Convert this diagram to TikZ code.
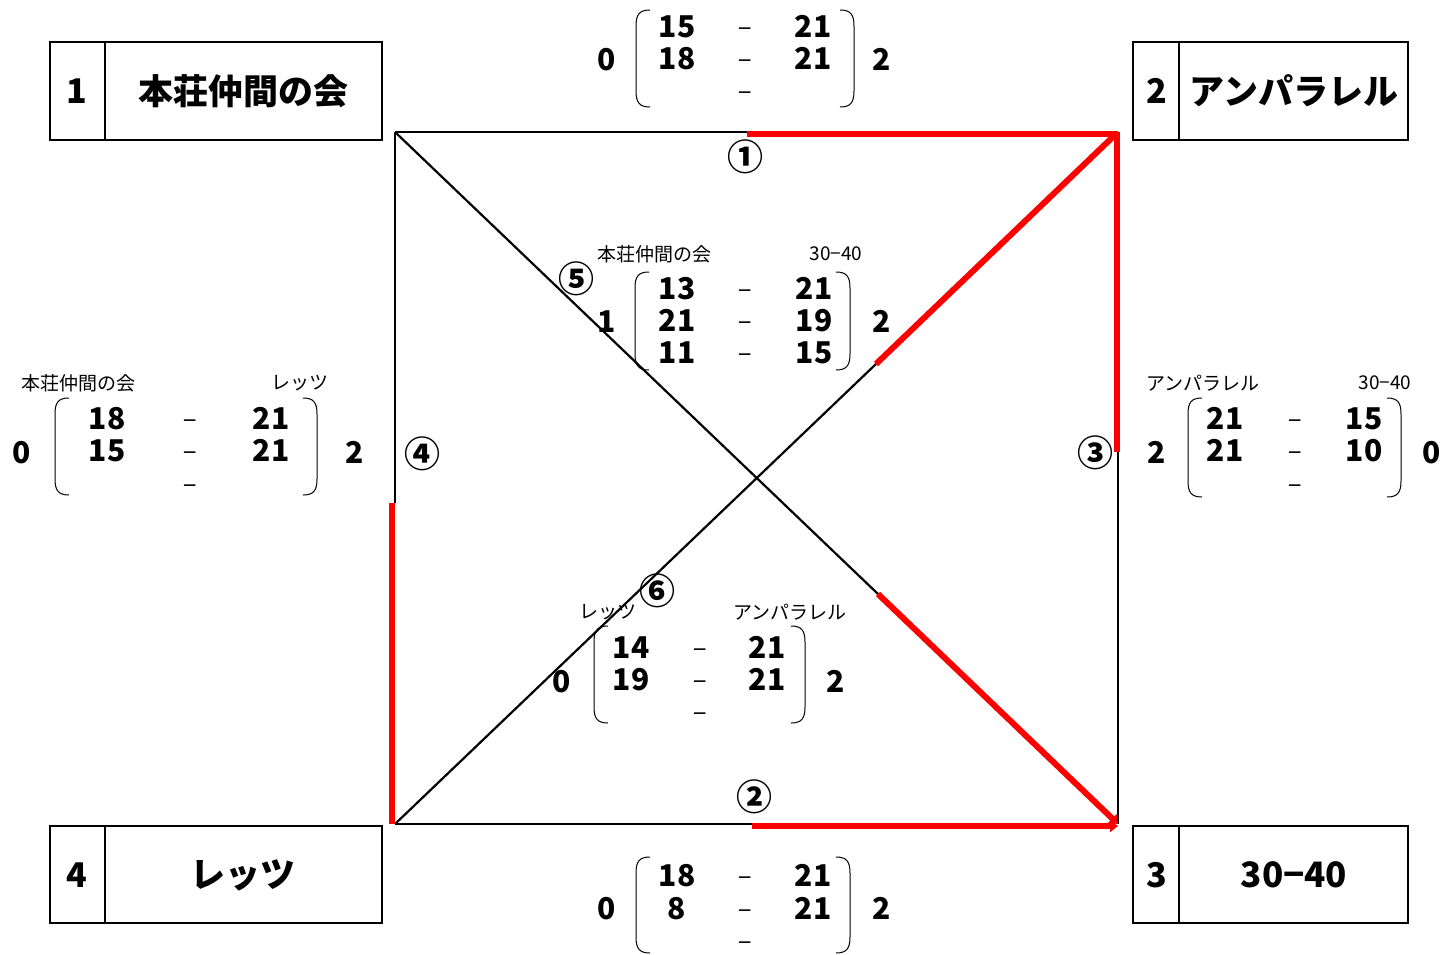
\documentclass[tikz,border=0pt]{standalone}
\usepackage{fontspec}
\setmainfont{Noto Sans CJK JP}
\usetikzlibrary{arrows.meta}
\tikzset{
  bigtxt/.style={font=\fontsize{35}{35}\selectfont\bfseries, inner sep=0pt},
  boxnum/.style={font=\fontsize{34}{34}\selectfont\bfseries, inner sep=0pt},
  num/.style={font=\fontsize{30}{30}\selectfont\bfseries, inner sep=0pt, anchor=base, yshift=-11pt},
  dsh/.style={font=\fontsize{24}{24}\selectfont, inner sep=0pt, anchor=base, yshift=-11pt},
  sm/.style={font=\fontsize{19}{19}\selectfont, inner sep=0pt},
  circ/.style={font=\fontsize{36}{36}\selectfont\bfseries, inner sep=0pt},
  blk/.style={line width=2.2pt, black},
  win/.style={line width=6pt, red},
  wintip/.style={win, -{Triangle[length=8pt,width=12pt]}},
  teambox/.style={draw, line width=1.5pt},
  par/.style={line width=1pt}
}
\newcommand\myLpar[3]{\draw[par] (#1+14,#2) .. controls (#1+3,#2) and (#1,#2+5) .. (#1,#2+16) -- (#1,#3-16) .. controls (#1,#3-5) and (#1+3,#3) .. (#1+14,#3);}
\newcommand\myRpar[3]{\draw[par] (#1-14,#2) .. controls (#1-3,#2) and (#1,#2+5) .. (#1,#2+16) -- (#1,#3-16) .. controls (#1,#3-5) and (#1-3,#3) .. (#1-14,#3);}
\begin{document}
\begin{tikzpicture}[x=1pt,y=-1pt]
\useasboundingbox[fill=white] (0,0) rectangle (1441,955);

% team boxes
\draw[teambox] (50,42) rectangle (382,140); \draw[teambox] (105,42) -- (105,140);
\node[boxnum] (n1) at (77,91) {1};
\node[bigtxt] (t1) at (243,91) {本荘仲間の会};
\draw[teambox] (1133,42) rectangle (1408,140); \draw[teambox] (1179,42) -- (1179,140);
\node[boxnum] (n2) at (1157,91) {2};
\node[bigtxt] (t2) at (1294,91) {アンパラレル};
\draw[teambox] (50,826) rectangle (382,923); \draw[teambox] (105,826) -- (105,923);
\node[boxnum] (n4) at (77,875) {4};
\node[bigtxt] (t4) at (243,875) {レッツ};
\draw[teambox] (1133,826) rectangle (1408,923); \draw[teambox] (1179,826) -- (1179,923);
\node[boxnum] (n3) at (1157,875) {3};
\node[bigtxt] (t3) at (1294,875) {30−40};

% square coordinates
\coordinate (TL) at (395,132);
\coordinate (TR) at (1118,132);
\coordinate (BR) at (1118,824);
\coordinate (BL) at (395,824);
\coordinate (T1) at (747,132);
\coordinate (R3) at (1118,452);
\coordinate (D6) at (876,364);
\coordinate (D5) at (878,594);
\coordinate (B2) at (752,824);
\coordinate (L4) at (395,503);

% black parts
\draw[blk] (TL) -- (T1);
\draw[blk] (R3) -- (BR);
\draw[blk] (D6) -- (BL);
\draw[blk] (TL) -- (D5);
\draw[blk] (BL) -- (B2);
\draw[blk] (TL) -- (L4);
% red parts
\draw[win] ([yshift=-2pt]T1) -- ([yshift=-2pt]TR);
\draw[win] ([xshift=-1pt]TR) -- ([xshift=-1pt]R3);
\draw[wintip] (D6) -- (TR);
\draw[wintip] (D5) -- (BR);
\draw[wintip] ([yshift=-2pt]B2) -- ([yshift=-2pt]BR);
\draw[win] ([xshift=-3pt]L4) -- ([xshift=-3pt]BL);

% circled match numbers
\node[circ] (c1) at (745,157) {①};
\node[circ] (c2) at (754,797) {②};
\node[circ] (c3) at (1095,453) {③};
\node[circ] (c4) at (422,454) {④};
\node[circ] (c5) at (576,279) {⑤};
\node[circ] (c6) at (657,591) {⑥};

% match 1 (top)
\node[num] (m1l) at (607,60) {0};
\node[num] (m1r) at (882,60) {2};
\myLpar{636}{10}{107} \myRpar{854}{10}{107}
\node[num] (m1a1) at (677,27) {15}; \node[dsh] (m1d1) at (745,27) {−}; \node[num] (m1b1) at (813,27) {21};
\node[num] (m1a2) at (677,59) {18}; \node[dsh] (m1d2) at (745,59) {−}; \node[num] (m1b2) at (813,59) {21};
\node[dsh] (m1d3) at (745,91) {−};

% match 5 (upper middle)
\node[sm] (m5tl) at (654,254) {本荘仲間の会};
\node[sm] (m5tr) at (836,254) {30−40};
\node[num] (m5l) at (607,321) {1};
\node[num] (m5r) at (882,321) {2};
\myLpar{635}{272}{370} \myRpar{850}{272}{370}
\node[num] (m5a1) at (677,288) {13}; \node[dsh] (m5d1) at (745,288) {−}; \node[num] (m5b1) at (814,288) {21};
\node[num] (m5a2) at (677,320) {21}; \node[dsh] (m5d2) at (745,320) {−}; \node[num] (m5b2) at (814,320) {19};
\node[num] (m5a3) at (677,352) {11}; \node[dsh] (m5d3) at (745,352) {−}; \node[num] (m5b3) at (814,352) {15};

% match 4 (left)
\node[sm] (m4tl) at (78,383) {本荘仲間の会};
\node[sm] (m4tr) at (300,383) {レッツ};
\node[num] (m4l) at (22,452) {0};
\node[num] (m4r) at (355,452) {2};
\myLpar{55}{398}{495} \myRpar{317}{398}{495}
\node[num] (m4a1) at (107,418) {18}; \node[dsh] (m4d1) at (190,418) {−}; \node[num] (m4b1) at (271,418) {21};
\node[num] (m4a2) at (107,450) {15}; \node[dsh] (m4d2) at (190,450) {−}; \node[num] (m4b2) at (271,450) {21};
\node[dsh] (m4d3) at (190,483) {−};

% match 3 (right)
\node[sm] (m3tl) at (1203,383) {アンパラレル};
\node[sm] (m3tr) at (1385,383) {30−40};
\node[num] (m3l) at (1157,452) {2};
\node[num] (m3r) at (1432,452) {0};
\myLpar{1188}{398}{497} \myRpar{1401}{398}{497}
\node[num] (m3a1) at (1225,418) {21}; \node[dsh] (m3d1) at (1295,418) {−}; \node[num] (m3b1) at (1364,418) {15};
\node[num] (m3a2) at (1225,450) {21}; \node[dsh] (m3d2) at (1295,450) {−}; \node[num] (m3b2) at (1364,450) {10};
\node[dsh] (m3d3) at (1295,483) {−};

% match 6 (lower middle)
\node[sm] (m6tl) at (608,612) {レッツ};
\node[sm] (m6tr) at (790,612) {アンパラレル};
\node[num] (m6l) at (562,681) {0};
\node[num] (m6r) at (836,681) {2};
\myLpar{594}{626}{723} \myRpar{805}{626}{723}
\node[num] (m6a1) at (631,647) {14}; \node[dsh] (m6d1) at (700,647) {−}; \node[num] (m6b1) at (767,647) {21};
\node[num] (m6a2) at (631,679) {19}; \node[dsh] (m6d2) at (700,679) {−}; \node[num] (m6b2) at (767,679) {21};
\node[dsh] (m6d3) at (700,711) {−};

% match 2 (bottom)
\node[num] (m2l) at (607,908) {0};
\node[num] (m2r) at (882,908) {2};
\myLpar{636}{857}{953} \myRpar{850}{857}{953}
\node[num] (m2a1) at (677,875) {18}; \node[dsh] (m2d1) at (745,875) {−}; \node[num] (m2b1) at (813,875) {21};
\node[num] (m2a2) at (677,908) {8}; \node[dsh] (m2d2) at (745,908) {−}; \node[num] (m2b2) at (813,908) {21};
\node[dsh] (m2d3) at (745,940) {−};
\end{tikzpicture}
\end{document}
